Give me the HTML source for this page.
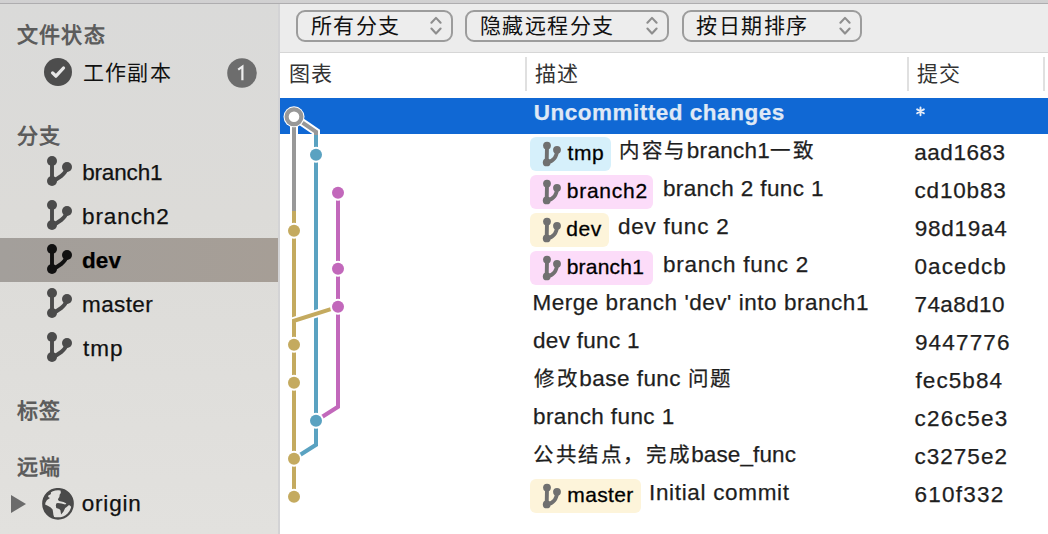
<!DOCTYPE html>
<html lang="zh-CN"><head><meta charset="utf-8">
<style>
*{margin:0;padding:0;box-sizing:border-box}
html,body{width:1048px;height:534px;overflow:hidden;background:#fff;font-family:"Liberation Sans",sans-serif}
.abs{position:absolute;white-space:nowrap}
.t{position:absolute;white-space:nowrap;line-height:40px;font-family:"Liberation Sans",sans-serif;-webkit-text-stroke:0.25px currentColor}
.c{font-size:20.5px;letter-spacing:2.6px}
#top{position:absolute;left:0;top:0;width:1048px;height:4px;background:linear-gradient(#d1d1d1 0,#d0cfd1 3px,#aeadaf 3px)}
#side{position:absolute;left:0;top:4px;width:278px;height:530px;background:linear-gradient(#dadad9,#dcdbd8 40%,#e2e1de)}
#sideb{position:absolute;left:278px;top:4px;width:2px;height:530px;background:#d3d3d5}
.hdr{font-size:21px;font-weight:bold;color:#5c5c5c;line-height:22px;letter-spacing:1.2px}
.itm{font-size:21px;color:#111;line-height:22px;letter-spacing:1.2px}
#tb{position:absolute;left:280px;top:4px;width:768px;height:49px;background:#ececec;border-bottom:1px solid #d6d6d6}
.btn{position:absolute;top:10px;height:31.5px;border:2px solid #9c9c9c;border-radius:9px;background:#ededed}
.btn span{position:absolute;left:12.5px;top:3px;font-size:21px;line-height:22px;color:#111;letter-spacing:1.5px}
.btn svg{position:absolute}
.colh{font-size:21px;line-height:22px;color:#333;letter-spacing:1.2px}
.sep{position:absolute;top:57px;width:2px;height:34px;background:#e0e0e0}
.row{font-size:22px;line-height:22px;color:#1e1e1e}
.lbl{position:absolute;left:530px;height:33.6px;border-radius:6px}
</style></head><body>
<div id="top"></div>
<div id="side"></div>
<div id="sideb"></div>

<!-- sidebar -->
<div class="abs hdr" style="left:17px;top:24px">文件状态</div>
<svg class="abs" style="left:44px;top:58px" width="28" height="28" viewBox="0 0 28 28"><circle cx="14" cy="14" r="14" fill="#4d4d4d"/><path d="M8.6 14.9 L11.9 18.2 L19.5 10" stroke="#e6e6e6" stroke-width="3.3" fill="none" stroke-linecap="round" stroke-linejoin="round"/></svg>
<div class="abs itm" style="left:83px;top:61.5px">工作副本</div>
<svg class="abs" style="left:227px;top:58px" width="30" height="30" viewBox="0 0 30 30"><circle cx="15" cy="15" r="14.8" fill="#6d6d6d"/><path d="M11.2 11.6 L15.4 8.6 V22.2" stroke="#eeeeee" stroke-width="2.2" fill="none" stroke-linejoin="miter"/></svg>

<div class="abs hdr" style="left:17px;top:125px">分支</div>

<div class="abs" style="left:0;top:238px;width:278px;height:44px;background:linear-gradient(90deg,#a39f9b,#a69e96)"></div>

<svg class="abs" style="left:46px;top:156px" width="28" height="30" viewBox="0 0 28 30"><circle cx="6" cy="5" r="5" fill="#4b4b4b"/><circle cx="21" cy="11" r="5" fill="#4b4b4b"/><circle cx="6" cy="25" r="5" fill="#4b4b4b"/><path d="M6 5 L6 25 C12 23 20 18 21 11" stroke="#4b4b4b" stroke-width="3.9" fill="none"/></svg>
<div class="t" style="left:82.2px;top:152.8px;font-size:22.5px;font-weight:normal;letter-spacing:-0.167px;color:#111">branch1</div>
<svg class="abs" style="left:46px;top:200px" width="28" height="30" viewBox="0 0 28 30"><circle cx="6" cy="5" r="5" fill="#4b4b4b"/><circle cx="21" cy="11" r="5" fill="#4b4b4b"/><circle cx="6" cy="25" r="5" fill="#4b4b4b"/><path d="M6 5 L6 25 C12 23 20 18 21 11" stroke="#4b4b4b" stroke-width="3.9" fill="none"/></svg>
<div class="t" style="left:82px;top:196.8px;font-size:22.5px;font-weight:normal;letter-spacing:0.9px;color:#111">branch2</div>
<svg class="abs" style="left:46px;top:244px" width="28" height="30" viewBox="0 0 28 30"><circle cx="6" cy="5" r="5" fill="#111"/><circle cx="21" cy="11" r="5" fill="#111"/><circle cx="6" cy="25" r="5" fill="#111"/><path d="M6 5 L6 25 C12 23 20 18 21 11" stroke="#111" stroke-width="3.9" fill="none"/></svg>
<div class="t" style="left:82px;top:240.8px;font-size:22.5px;font-weight:bold;letter-spacing:0.1px;color:#000">dev</div>
<svg class="abs" style="left:46px;top:288px" width="28" height="30" viewBox="0 0 28 30"><circle cx="6" cy="5" r="5" fill="#4b4b4b"/><circle cx="21" cy="11" r="5" fill="#4b4b4b"/><circle cx="6" cy="25" r="5" fill="#4b4b4b"/><path d="M6 5 L6 25 C12 23 20 18 21 11" stroke="#4b4b4b" stroke-width="3.9" fill="none"/></svg>
<div class="t" style="left:82px;top:284.8px;font-size:22.5px;font-weight:normal;letter-spacing:0.4px;color:#111">master</div>
<svg class="abs" style="left:46px;top:332px" width="28" height="30" viewBox="0 0 28 30"><circle cx="6" cy="5" r="5" fill="#4b4b4b"/><circle cx="21" cy="11" r="5" fill="#4b4b4b"/><circle cx="6" cy="25" r="5" fill="#4b4b4b"/><path d="M6 5 L6 25 C12 23 20 18 21 11" stroke="#4b4b4b" stroke-width="3.9" fill="none"/></svg>
<div class="t" style="left:83px;top:328.8px;font-size:22.5px;font-weight:normal;letter-spacing:1.05px;color:#111">tmp</div>

<div class="abs hdr" style="left:17px;top:400px">标签</div>
<div class="abs hdr" style="left:17px;top:456px">远端</div>
<svg class="abs" style="left:11px;top:495px" width="16" height="18" viewBox="0 0 16 18"><path d="M0 0 L15 9 L0 18 Z" fill="#6b6b6b"/></svg>
<svg class="abs" style="left:42px;top:488px" width="32" height="32" viewBox="0 0 32 32"><defs><clipPath id="gc"><circle cx="16" cy="15.8" r="14.8"/></clipPath></defs>
<circle cx="16" cy="15.8" r="14.7" fill="none" stroke="#4a4a4a" stroke-width="2.3"/>
<g clip-path="url(#gc)" fill="#4a4a4a">
<path d="M8 3.1 L9.1 5 L8.4 6.5 L6.5 7.2 L6.1 9.1 L8 9.9 L5 12.1 L3.5 14.4 L3.1 16.6 L5.7 17.7 L8.4 19.2 L10.6 21.5 L11 23.7 L11.4 26.7 L12.1 29 L12 34 L-2 34 L-2 0 L8 0 Z"/>
<path d="M18.47 1.84 L28 -1 L34 8 L34 19.2 L29.6 19.2 L28.1 17.7 L27 17 L24.4 19.2 L23.2 20 L21.4 23.7 L19.1 26.4 L18.4 22.2 L17.2 21 L14.25 20 L13.8 17.5 L14.25 15.5 L15.75 15.1 L19.5 15.5 L23.2 16.6 L24.4 15.5 L21.4 14 L16.9 12.9 L15.85 11.36 L17.35 9.1 L17.72 6.49 L18.85 4.99 Z"/>
</g></svg>
<div class="t" style="left:81.7px;top:484px;font-size:22.5px;font-weight:normal;letter-spacing:0.82px;color:#111">origin</div>

<!-- main -->
<div id="tb"></div>
<div class="btn" style="left:296px;width:157px"><span>所有分支</span></div>
<div class="btn" style="left:465px;width:204px"><span>隐藏远程分支</span></div>
<div class="btn" style="left:681.5px;width:180px"><span>按日期排序</span></div>

<svg class="abs" style="left:428px;top:15px" width="16" height="22" viewBox="0 0 16 22"><path d="M3.4 7.75 L8 2.9 L12.6 7.75 M3.4 13.55 L8 18.55 L12.6 13.55" stroke="#8e8e8e" stroke-width="2.1" stroke-linecap="round" stroke-linejoin="round" fill="none"/></svg>
<svg class="abs" style="left:644.1px;top:15px" width="16" height="22" viewBox="0 0 16 22"><path d="M3.4 7.75 L8 2.9 L12.6 7.75 M3.4 13.55 L8 18.55 L12.6 13.55" stroke="#8e8e8e" stroke-width="2.1" stroke-linecap="round" stroke-linejoin="round" fill="none"/></svg>
<svg class="abs" style="left:837.1px;top:15px" width="16" height="22" viewBox="0 0 16 22"><path d="M3.4 7.75 L8 2.9 L12.6 7.75 M3.4 13.55 L8 18.55 L12.6 13.55" stroke="#8e8e8e" stroke-width="2.1" stroke-linecap="round" stroke-linejoin="round" fill="none"/></svg>
<div class="abs colh" style="left:289px;top:63px">图表</div>
<div class="sep" style="left:525px"></div>
<div class="abs colh" style="left:535px;top:63px">描述</div>
<div class="sep" style="left:907px"></div>
<div class="abs colh" style="left:917px;top:63px">提交</div>
<div class="sep" style="left:1043px"></div>

<div class="abs" style="left:280px;top:98px;width:768px;height:36px;background:#1068d4"></div>

<div class="t" style="left:533.7px;top:92.8px;font-size:22.5px;font-weight:bold;letter-spacing:0.511px;color:#dfe8f6">Uncommitted changes</div>
<div class="lbl" style="top:137px;width:80.5px;background:#d6f0fb"></div>
<svg class="abs" style="left:536px;top:138.0px" width="30" height="30" viewBox="0 0 30 30"><circle cx="11" cy="7.6" r="3.9" fill="#707070"/><circle cx="21" cy="11.8" r="3.9" fill="#707070"/><circle cx="10.7" cy="24.4" r="3.9" fill="#707070"/><path d="M11 7.6 L10.7 24.4 C17 23.8 21 19 21 11.8" stroke="#707070" stroke-width="3.9" fill="none"/></svg>
<div class="t" style="left:567.6px;top:133.1px;font-size:21px;font-weight:normal;letter-spacing:0.5px;color:#000;-webkit-text-stroke:0.3px #000">tmp</div>
<div class="t" style="left:619px;top:130.8px;font-size:22.5px;font-weight:normal;letter-spacing:0.286px;color:#1e1e1e"><span class="c">内容与</span>branch1<span class="c">一致</span></div>
<div class="t" style="left:914.3px;top:132.8px;font-size:22.5px;font-weight:normal;letter-spacing:0.517px;color:#1e1e1e">aad1683</div>
<div class="lbl" style="top:175px;width:123px;background:#fcdcf9"></div>
<svg class="abs" style="left:536px;top:176.0px" width="30" height="30" viewBox="0 0 30 30"><circle cx="11" cy="7.6" r="3.9" fill="#707070"/><circle cx="21" cy="11.8" r="3.9" fill="#707070"/><circle cx="10.7" cy="24.4" r="3.9" fill="#707070"/><path d="M11 7.6 L10.7 24.4 C17 23.8 21 19 21 11.8" stroke="#707070" stroke-width="3.9" fill="none"/></svg>
<div class="t" style="left:566.7px;top:171.1px;font-size:21px;font-weight:normal;letter-spacing:0.767px;color:#000;-webkit-text-stroke:0.3px #000">branch2</div>
<div class="t" style="left:662.9px;top:168.8px;font-size:22.5px;font-weight:normal;letter-spacing:0.4px;color:#1e1e1e">branch 2 func 1</div>
<div class="t" style="left:914.5px;top:170.8px;font-size:22.5px;font-weight:normal;letter-spacing:0.833px;color:#1e1e1e">cd10b83</div>
<div class="lbl" style="top:213px;width:79.3px;background:#fdf4da"></div>
<svg class="abs" style="left:536px;top:214.0px" width="30" height="30" viewBox="0 0 30 30"><circle cx="11" cy="7.6" r="3.9" fill="#707070"/><circle cx="21" cy="11.8" r="3.9" fill="#707070"/><circle cx="10.7" cy="24.4" r="3.9" fill="#707070"/><path d="M11 7.6 L10.7 24.4 C17 23.8 21 19 21 11.8" stroke="#707070" stroke-width="3.9" fill="none"/></svg>
<div class="t" style="left:566.2px;top:209.1px;font-size:21px;font-weight:normal;letter-spacing:0.6px;color:#000;-webkit-text-stroke:0.3px #000">dev</div>
<div class="t" style="left:617.9px;top:206.8px;font-size:22.5px;font-weight:normal;letter-spacing:0.778px;color:#1e1e1e">dev func 2</div>
<div class="t" style="left:914.7px;top:208.8px;font-size:22.5px;font-weight:normal;letter-spacing:0.75px;color:#1e1e1e">98d19a4</div>
<div class="lbl" style="top:251px;width:123px;background:#fcdcf9"></div>
<svg class="abs" style="left:536px;top:252.0px" width="30" height="30" viewBox="0 0 30 30"><circle cx="11" cy="7.6" r="3.9" fill="#707070"/><circle cx="21" cy="11.8" r="3.9" fill="#707070"/><circle cx="10.7" cy="24.4" r="3.9" fill="#707070"/><path d="M11 7.6 L10.7 24.4 C17 23.8 21 19 21 11.8" stroke="#707070" stroke-width="3.9" fill="none"/></svg>
<div class="t" style="left:566.7px;top:247.1px;font-size:21px;font-weight:normal;letter-spacing:0.217px;color:#000;-webkit-text-stroke:0.3px #000">branch1</div>
<div class="t" style="left:662.9px;top:244.8px;font-size:22.5px;font-weight:normal;letter-spacing:0.75px;color:#1e1e1e">branch func 2</div>
<div class="t" style="left:914.5px;top:246.8px;font-size:22.5px;font-weight:normal;letter-spacing:1.05px;color:#1e1e1e">0acedcb</div>
<div class="t" style="left:532.4px;top:282.8px;font-size:22.5px;font-weight:normal;letter-spacing:0.533px;color:#1e1e1e">Merge branch 'dev' into branch1</div>
<div class="t" style="left:914.5px;top:284.8px;font-size:22.5px;font-weight:normal;letter-spacing:0.4px;color:#1e1e1e">74a8d10</div>
<div class="t" style="left:533px;top:320.8px;font-size:22.5px;font-weight:normal;letter-spacing:0.3px;color:#1e1e1e">dev func 1</div>
<div class="t" style="left:914.9px;top:322.8px;font-size:22.5px;font-weight:normal;letter-spacing:1.183px;color:#1e1e1e">9447776</div>
<div class="t" style="left:534px;top:358.8px;font-size:22.5px;font-weight:normal;letter-spacing:0.48px;color:#1e1e1e"><span class="c">修改</span>base func <span class="c">问题</span></div>
<div class="t" style="left:915.5px;top:360.8px;font-size:22.5px;font-weight:normal;letter-spacing:1.083px;color:#1e1e1e">fec5b84</div>
<div class="t" style="left:533px;top:396.8px;font-size:22.5px;font-weight:normal;letter-spacing:0.4px;color:#1e1e1e">branch func 1</div>
<div class="t" style="left:914.5px;top:398.8px;font-size:22.5px;font-weight:normal;letter-spacing:1.283px;color:#1e1e1e">c26c5e3</div>
<div class="t" style="left:533px;top:434.8px;font-size:22.5px;font-weight:normal;letter-spacing:0.111px;color:#1e1e1e"><span class="c">公共结点，完成</span>base_func</div>
<div class="t" style="left:914.5px;top:436.8px;font-size:22.5px;font-weight:normal;letter-spacing:1.017px;color:#1e1e1e">c3275e2</div>
<div class="lbl" style="top:479px;width:111px;background:#fdf4da"></div>
<svg class="abs" style="left:536px;top:480.0px" width="30" height="30" viewBox="0 0 30 30"><circle cx="11" cy="7.6" r="3.9" fill="#707070"/><circle cx="21" cy="11.8" r="3.9" fill="#707070"/><circle cx="10.7" cy="24.4" r="3.9" fill="#707070"/><path d="M11 7.6 L10.7 24.4 C17 23.8 21 19 21 11.8" stroke="#707070" stroke-width="3.9" fill="none"/></svg>
<div class="t" style="left:567.3px;top:475.1px;font-size:21px;font-weight:normal;letter-spacing:0.36px;color:#000;-webkit-text-stroke:0.3px #000">master</div>
<div class="t" style="left:649px;top:472.8px;font-size:22.5px;font-weight:normal;letter-spacing:0.669px;color:#1e1e1e">Initial commit</div>
<div class="t" style="left:914.5px;top:474.8px;font-size:22.5px;font-weight:normal;letter-spacing:1.25px;color:#1e1e1e">610f332</div>
<svg class="abs" style="left:912px;top:103px" width="17" height="17" viewBox="0 0 17 17"><path d="M8.5 4.4 V12.2 M5.12 6.35 L11.88 10.25 M5.12 10.25 L11.88 6.35" stroke="#e6edf8" stroke-width="1.9" stroke-linecap="round" fill="none"/></svg>
<svg id="graph" class="abs" style="left:0;top:0" width="1048" height="534">
<polyline points="294,116.8 294,211" fill="none" stroke="#fff" stroke-width="8" stroke-linejoin="miter"/>
<polyline points="294,116.8 294,211" fill="none" stroke="#989898" stroke-width="4" stroke-linejoin="miter"/>
<polyline points="294,211 294,230.8" fill="none" stroke="#fff" stroke-width="8" stroke-linejoin="miter"/>
<polyline points="294,211 294,230.8" fill="none" stroke="#c4aa5f" stroke-width="4" stroke-linejoin="miter"/>
<polyline points="294,116.8 316,131.8 316,135" fill="none" stroke="#fff" stroke-width="8" stroke-linejoin="miter"/>
<polyline points="294,116.8 316,131.8 316,135" fill="none" stroke="#989898" stroke-width="4" stroke-linejoin="miter"/>
<polyline points="316,135 316,154.8" fill="none" stroke="#fff" stroke-width="8" stroke-linejoin="miter"/>
<polyline points="316,135 316,154.8" fill="none" stroke="#5aa2c1" stroke-width="4" stroke-linejoin="miter"/>
<polyline points="316,154.8 316,420.8" fill="none" stroke="#fff" stroke-width="8" stroke-linejoin="miter"/>
<polyline points="316,154.8 316,420.8" fill="none" stroke="#5aa2c1" stroke-width="4" stroke-linejoin="miter"/>
<polyline points="294,230.8 294,496.8" fill="none" stroke="#fff" stroke-width="8" stroke-linejoin="miter"/>
<polyline points="294,230.8 294,496.8" fill="none" stroke="#c4aa5f" stroke-width="4" stroke-linejoin="miter"/>
<polyline points="338,192.8 338,406.8 316,420.8" fill="none" stroke="#fff" stroke-width="8" stroke-linejoin="miter"/>
<polyline points="338,192.8 338,406.8 316,420.8" fill="none" stroke="#c268bb" stroke-width="4" stroke-linejoin="miter"/>
<polyline points="338,306.8 294,320.8 294,344.8" fill="none" stroke="#fff" stroke-width="8" stroke-linejoin="miter"/>
<polyline points="338,306.8 294,320.8 294,344.8" fill="none" stroke="#c4aa5f" stroke-width="4" stroke-linejoin="miter"/>
<polyline points="316,420.8 316,444.8 294,458.8" fill="none" stroke="#fff" stroke-width="8" stroke-linejoin="miter"/>
<polyline points="316,420.8 316,444.8 294,458.8" fill="none" stroke="#5aa2c1" stroke-width="4" stroke-linejoin="miter"/>
<circle cx="294" cy="116.8" r="10.5" fill="#fff"/><circle cx="294" cy="116.8" r="7.4" fill="#fff" stroke="#989898" stroke-width="4.2"/>
<circle cx="316" cy="154.8" r="8" fill="#fff"/><circle cx="316" cy="154.8" r="6" fill="#5aa2c1"/>
<circle cx="338" cy="192.8" r="8" fill="#fff"/><circle cx="338" cy="192.8" r="6" fill="#c268bb"/>
<circle cx="294" cy="230.8" r="8" fill="#fff"/><circle cx="294" cy="230.8" r="6" fill="#c4aa5f"/>
<circle cx="338" cy="268.8" r="8" fill="#fff"/><circle cx="338" cy="268.8" r="6" fill="#c268bb"/>
<circle cx="338" cy="306.8" r="8" fill="#fff"/><circle cx="338" cy="306.8" r="6" fill="#c268bb"/>
<circle cx="294" cy="344.8" r="8" fill="#fff"/><circle cx="294" cy="344.8" r="6" fill="#c4aa5f"/>
<circle cx="294" cy="382.8" r="8" fill="#fff"/><circle cx="294" cy="382.8" r="6" fill="#c4aa5f"/>
<circle cx="316" cy="420.8" r="8" fill="#fff"/><circle cx="316" cy="420.8" r="6" fill="#5aa2c1"/>
<circle cx="294" cy="458.8" r="8" fill="#fff"/><circle cx="294" cy="458.8" r="6" fill="#c4aa5f"/>
<circle cx="294" cy="496.8" r="8" fill="#fff"/><circle cx="294" cy="496.8" r="6" fill="#c4aa5f"/>
</svg>
</body></html>
